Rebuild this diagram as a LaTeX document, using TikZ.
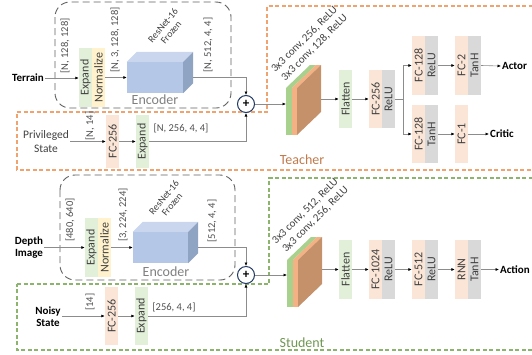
\documentclass[tikz,border=0pt]{standalone}
\usepackage{fontspec}
\setmainfont{Carlito}
\usetikzlibrary{arrows.meta,calc}
\definecolor{cgreen}{HTML}{E2F0D9}
\definecolor{cyellow}{HTML}{FFF2CC}
\definecolor{cpeach}{HTML}{FBE5D6}
\definecolor{cgray}{HTML}{D9D9D9}
\definecolor{cblue}{HTML}{B4C7E7}
\definecolor{cbluetop}{HTML}{C9D6EE}
\definecolor{cblueside}{HTML}{8FA3C3}
\definecolor{convg}{HTML}{A9D18E}
\definecolor{convo}{HTML}{F4B183}
\definecolor{convb}{HTML}{C5916A}
\definecolor{tcol}{HTML}{F0A36E}
\definecolor{ttext}{HTML}{C07A4C}
\definecolor{scol}{HTML}{8CB46C}
\definecolor{stext}{HTML}{6F9652}
\definecolor{navy}{HTML}{1F3864}
\definecolor{txt}{HTML}{404040}
\definecolor{dimtxt}{HTML}{505050}
\definecolor{linegray}{HTML}{8C8C8C}
\definecolor{encgray}{HTML}{606060}
\tikzset{
  layer/.style={rotate=90, minimum height=13, inner sep=0pt, text=txt,
    font=\fontsize{12}{12}\selectfont},
  dimlab/.style={rotate=90, text=dimtxt, inner sep=1pt, font=\fontsize{10.5}{11}\selectfont},
  dimh/.style={text=dimtxt, inner sep=1pt, font=\fontsize{10.5}{11}\selectfont},
  inlab/.style={inner sep=1pt, text=black, font=\bfseries\fontsize{11}{12}\selectfont, align=center},
  conn/.style={draw=linegray, line width=0.6pt, -{Latex[length=3.5pt,width=3pt,color=black]}},
  encbox/.style={draw=encgray, line width=0.9pt, dash pattern=on 7pt off 4pt, rounded corners=15pt},
  convlab/.style={rotate=45, anchor=west, inner sep=0pt, text=txt, font=\fontsize{11}{11}\selectfont},
  reslab/.style={rotate=50, text=txt, align=center, inner sep=0pt, font=\fontsize{9.8}{10.5}\selectfont},
  enclab/.style={text=gray, font=\fontsize{14}{14}\selectfont, inner sep=0pt},
  plus/.style={circle, draw=navy, line width=1pt, fill=white, minimum size=17, inner sep=0pt,
    font=\bfseries\fontsize{13}{13}\selectfont},
  bluebox/.style={fill=cblue, minimum width=56, minimum height=31, inner sep=0pt}
}
\newcommand{\convslab}[2]{%
  \begin{scope}[shift={(#1,#2)}]
    \fill[convg] (0,0) rectangle (6,-47);
    \fill[convo] (6,0) rectangle (11,-47);
    \fill[convg] (0,-47) -- (6,-47) -- (30,-70) -- (24,-70) -- cycle;
    \fill[convo] (6,-47) -- (11,-47) -- (35,-70) -- (30,-70) -- cycle;
    \fill[convb] (11,0) -- (11,-47) -- (35,-70) -- (35,-23) -- cycle;
  \end{scope}}
\newcommand{\boxfaces}[1]{%
  \fill[cbluetop] (#1.north west) -- ++(10,-10) -- ($(#1.north east)+(10,-10)$) -- (#1.north east) -- cycle;
  \fill[cblueside] (#1.north east) -- ++(10,-10) -- ($(#1.south east)+(10,-10)$) -- (#1.south east) -- cycle;}
\begin{document}
\begin{tikzpicture}[x=1pt,y=-1pt]
\useasboundingbox (0,0) rectangle (532,354);
% regions
\draw[tcol, line width=1.2pt, dash pattern=on 4pt off 2.5pt]
  (17,112) -- (267,112) -- (267,6) -- (545,6) -- (545,170) -- (17,170) -- cycle;
\draw[scol, line width=1.2pt, dash pattern=on 4pt off 2.5pt]
  (17,284) -- (269,284) -- (269,178) -- (545,178) -- (545,350) -- (17,350) -- cycle;
\draw[encbox] (55,2) rectangle (231,108);
\draw[encbox] (60,175) rectangle (235,280);

% ---------------- Teacher ----------------
\node[inlab, anchor=east] (terrain) at (45,78) {Terrain};
\node[layer, fill=cgreen, minimum width=59] (exp1) at (85.5,77.5) {Expand};
\node[layer, fill=cyellow, minimum width=59] (norm1) at (98.5,77.5) {Normalize};
\node[dimlab] (d1) at (65,46) {[N, 128, 128]};
\node[dimlab] (d2) at (115,40) {[N, 3, 128, 128]};
\node[bluebox] (enc1) at (155,77.5) {};
\boxfaces{enc1}
\node[reslab] (res1) at (167,29) {ResNet-16\\Frozen};
\node[dimlab] (d3) at (208,45) {[N, 512, 4, 4]};
\node[enclab] (encl1) at (155,100) {Encoder};
\node[plus] (plus1) at (246,104) {+};

\node[inlab, text=txt, font=\fontsize{11.5}{14}\selectfont] (priv) at (46,142) {Privileged\\State};
\node[layer, fill=cpeach, minimum width=53] (fcp) at (112.5,141.5) {FC-256};
\node[layer, fill=cgreen, minimum width=53] (exp1b) at (142.5,141.5) {Expand};
\node[dimlab] (d4) at (90,126) {[N, 14]};
\node[dimh] (d5) at (181,128) {[N, 256, 4, 4]};

\convslab{286}{135}
\coordinate (conv1in) at (286,104);
\coordinate (conv1out) at (321,99);
\node[convlab] (c1a) at (273,71) {3x3 conv, 256, ReLU};
\node[convlab] (c1b) at (283,79) {3x3 conv, 128, ReLU};

\node[layer, fill=cgreen, minimum width=58] (flat1) at (345.5,99) {Flatten};
\node[layer, fill=cpeach, minimum width=58] (fc1) at (375.5,99) {FC-256};
\node[layer, fill=cgray, minimum width=58] (relu1) at (388.5,99) {ReLU};
\node[layer, fill=cpeach, minimum width=59] (fca) at (418.5,65.5) {FC-128};
\node[layer, fill=cgray, minimum width=59] (relua) at (431.5,65.5) {ReLU};
\node[layer, fill=cpeach, minimum width=59] (fc2) at (461.5,65.5) {FC-2};
\node[layer, fill=cgray, minimum width=59] (tanh2) at (474.5,65.5) {TanH};
\node[inlab, anchor=west] (actor) at (501,66) {Actor};
\node[layer, fill=cpeach, minimum width=58] (fcb) at (418.5,134) {FC-128};
\node[layer, fill=cgray, minimum width=58] (tanhb) at (431.5,134) {TanH};
\node[layer, fill=cpeach, minimum width=58] (fcc) at (461.5,134) {FC-1};
\node[inlab, anchor=west] (critic) at (489,134) {Critic};
\node[text=ttext, font=\fontsize{14}{14}\selectfont, inner sep=0pt] (tlab) at (302,160) {Teacher};

\draw[conn] (terrain.east) -- (terrain.east -| exp1.north);
\draw[conn] (norm1.south) -- (enc1.west);
\draw[conn] ($(enc1.east)+(10,0)$) -| (plus1.north);
\draw[conn] (priv.east |- fcp.north) -- (fcp.north);
\draw[conn] (fcp.south) -- (exp1b.north);
\draw[conn] (exp1b.south) -| (plus1.south);
\draw[conn] (plus1.east) -- (plus1.east -| conv1in);
\draw[conn] (conv1out) -- (flat1.north);
\draw[conn] (flat1.south) -- (fc1.north);
\draw[conn] (relu1.south) -- ++(8,0) |- (fca.north);
\draw[conn] (relu1.south) -- ++(8,0) |- (fcb.north);
\draw[conn] (relua.south) -- (fc2.north);
\draw[conn] (tanh2.south) -- (actor.west);
\draw[conn] (tanhb.south) -- (fcc.north);
\draw[conn] (fcc.south) -- (critic.west);

% ---------------- Student ----------------
\node[inlab] (depth) at (29,248) {Depth\\Image};
\node[layer, fill=cgreen, minimum width=59] (exp2) at (91.5,247.5) {Expand};
\node[layer, fill=cyellow, minimum width=59] (norm2) at (104.5,247.5) {Normalize};
\node[dimlab] (e1) at (70,220) {[480, 640]};
\node[dimlab] (e2) at (123,215) {[3, 224, 224]};
\node[bluebox, minimum width=55] (enc2) at (160.5,247.5) {};
\boxfaces{enc2}
\node[reslab] (res2) at (168,201) {ResNet-16\\Frozen};
\node[dimlab] (e3) at (212,221) {[512, 4, 4]};
\node[enclab] (encl2) at (166,272) {Encoder};
\node[plus] (plus2) at (246,275) {+};

\node[inlab] (noisy) at (48,317) {Noisy\\State};
\node[layer, fill=cpeach, minimum width=58] (fcs) at (111.5,316) {FC-256};
\node[layer, fill=cgreen, minimum width=58] (exp2b) at (141.5,316) {Expand};
\node[dimlab] (e4) at (90,302) {[14]};
\node[dimh] (e5) at (174,307) {[256, 4, 4]};

\convslab{287}{307}
\coordinate (conv2in) at (287,275);
\coordinate (conv2out) at (322,269.5);
\node[convlab] (c2a) at (274,243) {3x3 conv, 512, ReLU};
\node[convlab] (c2b) at (284,251) {3x3 conv, 256, ReLU};

\node[layer, fill=cgreen, minimum width=59] (flat2) at (345.5,269.5) {Flatten};
\node[layer, fill=cpeach, minimum width=59] (fd1) at (375.5,269.5) {FC-1024};
\node[layer, fill=cgray, minimum width=59] (rd1) at (388.5,269.5) {ReLU};
\node[layer, fill=cpeach, minimum width=59] (fd2) at (418.5,269.5) {FC-512};
\node[layer, fill=cgray, minimum width=59] (rd2) at (431.5,269.5) {ReLU};
\node[layer, fill=cpeach, minimum width=59] (rnn) at (461.5,269.5) {RNN};
\node[layer, fill=cgray, minimum width=59] (td) at (474.5,269.5) {TanH};
\node[inlab, anchor=west] (action) at (499,269.5) {Action};
\node[text=stext, font=\fontsize{14}{14}\selectfont, inner sep=0pt] (slab) at (302,343) {Student};

\draw[conn] (depth.east |- exp2.north) -- (exp2.north);
\draw[conn] (norm2.south) -- (enc2.west);
\draw[conn] ($(enc2.east)+(10,0)$) -| (plus2.north);
\draw[conn] (noisy.east |- fcs.north) -- (fcs.north);
\draw[conn] (fcs.south) -- (exp2b.north);
\draw[conn] (exp2b.south) -| (plus2.south);
\draw[conn] (plus2.east) -- (plus2.east -| conv2in);
\draw[conn] (conv2out) -- (flat2.north);
\draw[conn] (flat2.south) -- (fd1.north);
\draw[conn] (rd1.south) -- (fd2.north);
\draw[conn] (rd2.south) -- (rnn.north);
\draw[conn] (td.south) -- (action.west);
\end{tikzpicture}
\end{document}
